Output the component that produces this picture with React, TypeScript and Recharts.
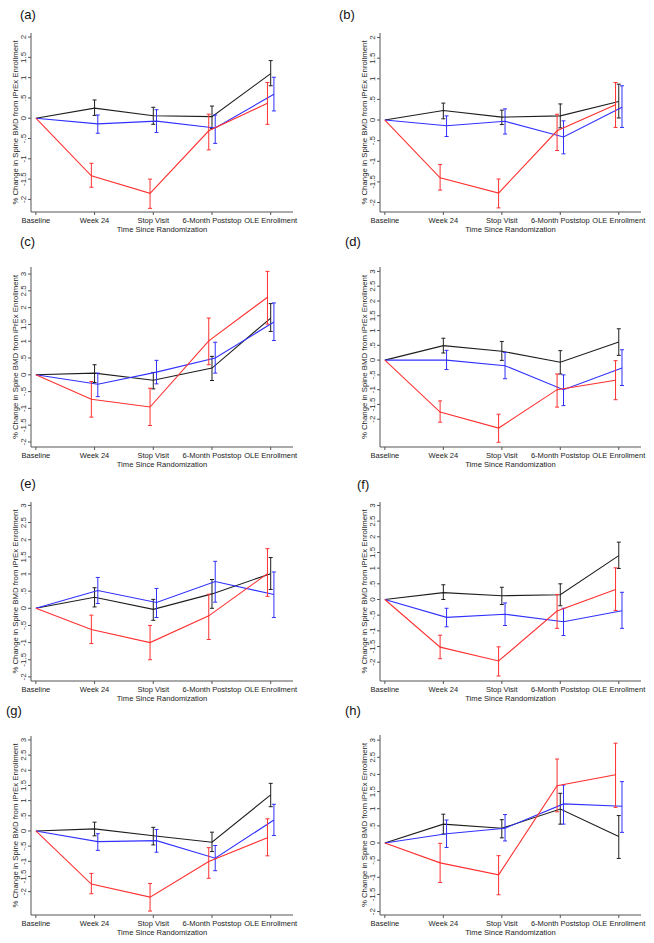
import { ErrorBar, Label, Line, LineChart, XAxis, YAxis } from "recharts";

const CATEGORIES = ["Baseline", "Week 24", "Stop Visit", "6-Month Poststop", "OLE Enrollment"];
const TICKS_2 = [-2, -1.5, -1, -0.5, 0, 0.5, 1, 1.5, 2];
const TICKS_3 = [-2, -1.5, -1, -0.5, 0, 0.5, 1, 1.5, 2, 2.5, 3];

type Ci = [number, number] | null;

// (a)
const A_BLACK = [0, 0.25, 0.06, 0.04, 1.1];
const A_BLACK_CI: Ci[] = [null, [0.07, 0.45], [-0.15, 0.27], [-0.25, 0.3], [0.8, 1.42]];
const A_BLUE = [0, -0.14, -0.07, -0.24, 0.59];
const A_BLUE_CI: Ci[] = [null, [-0.37, 0.08], [-0.35, 0.21], [-0.62, 0.08], [0.18, 1.01]];
const A_RED = [0, -1.42, -1.85, -0.31, 0.37];
const A_RED_CI: Ci[] = [null, [-1.7, -1.11], [-2.22, -1.5], [-0.78, 0.1], [-0.15, 0.88]];

// (b)
const B_BLACK = [0, 0.23, 0.07, 0.1, 0.45];
const B_BLACK_CI: Ci[] = [null, [0.03, 0.41], [-0.11, 0.24], [-0.19, 0.39], [0.05, 0.87]];
const B_BLUE = [0, -0.14, -0.03, -0.41, 0.31];
const B_BLUE_CI: Ci[] = [null, [-0.4, 0.1], [-0.34, 0.27], [-0.82, -0.02], [-0.18, 0.83]];
const B_RED = [0, -1.4, -1.77, -0.26, 0.37];
const B_RED_CI: Ci[] = [null, [-1.7, -1.08], [-2.13, -1.43], [-0.74, 0.14], [-0.18, 0.91]];

// (c)
const C_BLACK = [0, 0.05, -0.16, 0.2, 1.69];
const C_BLACK_CI: Ci[] = [null, [-0.23, 0.3], [-0.42, 0.07], [-0.17, 0.55], [1.29, 2.12]];
const C_BLUE = [0, -0.28, 0.08, 0.5, 1.57];
const C_BLUE_CI: Ci[] = [null, [-0.65, 0.05], [-0.27, 0.43], [0.05, 0.97], [1.02, 2.14]];
const C_RED = [0, -0.73, -0.96, 1.01, 2.31];
const C_RED_CI: Ci[] = [null, [-1.26, -0.2], [-1.51, -0.4], [0.3, 1.69], [1.51, 3.08]];

// (d)
const D_BLACK = [0, 0.49, 0.3, -0.07, 0.61];
const D_BLACK_CI: Ci[] = [null, [0.24, 0.74], [-0.01, 0.63], [-0.47, 0.32], [0.16, 1.06]];
const D_BLUE = [0, 0, -0.19, -1.0, -0.27];
const D_BLUE_CI: Ci[] = [null, [-0.32, 0.33], [-0.63, 0.26], [-1.54, -0.5], [-0.86, 0.35]];
const D_RED = [0, -1.76, -2.3, -1.0, -0.68];
const D_RED_CI: Ci[] = [null, [-2.1, -1.38], [-2.78, -1.83], [-1.59, -0.47], [-1.34, -0.02]];

// (e)
const E_BLACK = [0, 0.32, -0.03, 0.42, 1.01];
const E_BLACK_CI: Ci[] = [null, [0.04, 0.6], [-0.35, 0.26], [0, 0.84], [0.55, 1.48]];
const E_BLUE = [0, 0.52, 0.17, 0.78, 0.4];
const E_BLUE_CI: Ci[] = [null, [0.14, 0.9], [-0.27, 0.58], [0.18, 1.37], [-0.27, 1.06]];
const E_RED = [0, -0.62, -1.0, -0.22, 1.01];
const E_RED_CI: Ci[] = [null, [-1.03, -0.2], [-1.5, -0.5], [-0.91, 0.41], [0.35, 1.74]];

// (f)
const F_BLACK = [0, 0.22, 0.12, 0.15, 1.4];
const F_BLACK_CI: Ci[] = [null, [0, 0.47], [-0.16, 0.39], [-0.2, 0.5], [0.99, 1.83]];
const F_BLUE = [0, -0.57, -0.47, -0.71, -0.36];
const F_BLUE_CI: Ci[] = [null, [-0.87, -0.28], [-0.83, -0.11], [-1.15, -0.28], [-0.92, 0.23]];
const F_RED = [0, -1.52, -1.96, -0.37, 0.32];
const F_RED_CI: Ci[] = [null, [-1.89, -1.14], [-2.44, -1.51], [-0.92, 0.16], [-0.35, 1.01]];

// (g)
const G_BLACK = [0, 0.07, -0.16, -0.37, 1.19];
const G_BLACK_CI: Ci[] = [null, [-0.16, 0.29], [-0.46, 0.12], [-0.68, -0.04], [0.8, 1.57]];
const G_BLUE = [0, -0.35, -0.32, -0.9, 0.36];
const G_BLUE_CI: Ci[] = [null, [-0.64, -0.09], [-0.7, 0.05], [-1.31, -0.48], [-0.15, 0.88]];
const G_RED = [0, -1.75, -2.18, -1.01, -0.22];
const G_RED_CI: Ci[] = [null, [-2.07, -1.4], [-2.64, -1.73], [-1.56, -0.55], [-0.82, 0.4]];

// (h)
const H_BLACK = [0, 0.55, 0.43, 0.99, 0.19];
const H_BLACK_CI: Ci[] = [null, [0.26, 0.84], [0.15, 0.68], [0.55, 1.45], [-0.45, 0.8]];
const H_BLUE = [0, 0.27, 0.43, 1.14, 1.07];
const H_BLUE_CI: Ci[] = [null, [-0.13, 0.67], [0.06, 0.83], [0.55, 1.69], [0.31, 1.79]];
const H_RED = [0, -0.58, -0.93, 1.67, 1.99];
const H_RED_CI: Ci[] = [null, [-1.15, -0.01], [-1.51, -0.37], [0.91, 2.45], [1.04, 2.91]];

const FONT = "'Liberation Sans', Arial, Helvetica, sans-serif";
const BLACK = "#1e1e1e";
const BLUE = "#3030ff";
const RED = "#ff3030";
const X_DOMAIN: [number, number] = [-0.083, 4.38];

// Stata-style tick labels: ".5", "-1.5"
function fmtTick(v: number) {
  if (v === 0) return "0";
  return String(v).replace(/^(-?)0\./, "$1.");
}

function toRows(mean: number[], ci: Ci[], shift: number) {
  return mean.map((m, i) => {
    const c = ci[i];
    return {
      x: i === 0 ? 0 : i + shift,
      y: m,
      err: c ? [m - c[0], c[1] - m] : undefined,
    };
  });
}

const YTick = (props: any) => {
  const { x, y, payload } = props;
  return (
    <text
      x={x}
      y={y}
      transform={`rotate(-90 ${x} ${y})`}
      textAnchor="middle"
      fontSize={8}
      fontFamily={FONT}
      fill="#333"
    >
      {fmtTick(payload.value)}
    </text>
  );
};

const XTick = (props: any) => {
  const { x, y, payload } = props;
  return (
    <text x={x} y={y} dy="0.71em" textAnchor="middle" fontSize={7.5} fontFamily={FONT} fill="#222">
      {CATEGORIES[payload.value]}
    </text>
  );
};

type Frame = { l: number; r: number; t: number; b: number };

function Panel({
  tag,
  tagX,
  tagY,
  frame,
  domain,
  ticks,
  black,
  blackCi,
  blue,
  blueCi,
  red,
  redCi,
}: {
  tag: string;
  tagX: number;
  tagY: number;
  frame: Frame;
  domain: [number, number];
  ticks: number[];
  black: number[];
  blackCi: Ci[];
  blue: number[];
  blueCi: Ci[];
  red: number[];
  redCi: Ci[];
}) {
  const padL = 40;
  const padR = 5;
  const padT = 5;
  const padB = 25;
  const w = frame.r - frame.l + padL + padR;
  const h = frame.b - frame.t + padT + padB;
  const series = [
    { key: "black", color: BLACK, rows: toRows(black, blackCi, 0) },
    { key: "blue", color: BLUE, rows: toRows(blue, blueCi, 0.055) },
    { key: "red", color: RED, rows: toRows(red, redCi, -0.055) },
  ];
  return (
    <>
      <div
        style={{
          position: "absolute",
          left: tagX,
          top: tagY - 7,
          fontFamily: FONT,
          fontSize: 13,
          lineHeight: "14px",
          color: "#111",
        }}
      >
        {tag}
      </div>
      <div style={{ position: "absolute", left: frame.l - padL, top: frame.t - padT }}>
        <LineChart width={w} height={h} margin={{ top: padT, right: padR, bottom: 0, left: padL - 30 }}>
          <XAxis
            dataKey="x"
            type="number"
            domain={X_DOMAIN}
            allowDataOverflow
            ticks={[0, 1, 2, 3, 4]}
            interval={0}
            height={padB}
            tick={<XTick />}
            tickSize={3}
            tickMargin={3}
            stroke="#555"
            label={
              <Label
                content={(p: any) => {
                  const vb = p.viewBox;
                  return (
                    <text
                      x={vb.x + vb.width / 2}
                      y={vb.y + 20}
                      textAnchor="middle"
                      fontSize={7.6}
                      fontFamily={FONT}
                      fill="#222"
                    >
                      Time Since Randomization
                    </text>
                  );
                }}
              />
            }
          />
          <XAxis
            xAxisId="top"
            orientation="top"
            dataKey="x"
            type="number"
            domain={X_DOMAIN}
            allowDataOverflow
            height={0}
            tick={false}
            tickLine={false}
            stroke="#b5b5b5"
          />
          <YAxis
            type="number"
            domain={domain}
            allowDataOverflow
            ticks={ticks}
            interval={0}
            width={30}
            tick={<YTick />}
            tickSize={3}
            tickMargin={2}
            stroke="#555"
            label={
              <Label
                content={(p: any) => {
                  const vb = p.viewBox;
                  const cx = vb.x + vb.width - 13;
                  const cy = vb.y + vb.height / 2;
                  return (
                    <text
                      x={cx}
                      y={cy}
                      transform={`rotate(-90 ${cx} ${cy})`}
                      textAnchor="middle"
                      fontSize={7.8}
                      fontFamily={FONT}
                      fill="#222"
                    >
                      % Change in Spine BMD from iPrEx Enrollment
                    </text>
                  );
                }}
              />
            }
          />
          <YAxis
            yAxisId="right"
            orientation="right"
            type="number"
            domain={domain}
            allowDataOverflow
            width={0}
            tick={false}
            tickLine={false}
            stroke="#b5b5b5"
          />
          {series.map((s) => (
            <Line
              key={s.key}
              data={s.rows}
              dataKey="y"
              type="linear"
              stroke={s.color}
              strokeWidth={1.1}
              dot={false}
              activeDot={false}
              isAnimationActive={false}
            >
              <ErrorBar
                dataKey="err"
                direction="y"
                width={2}
                stroke={s.color}
                strokeWidth={1}
                isAnimationActive={false}
              />
            </Line>
          ))}
        </LineChart>
      </div>
    </>
  );
}

export default function App() {
  return (
    <div style={{ position: "absolute", left: 0, top: 0, width: 654, height: 943, background: "#fff" }}>
      <Panel tag="(a)" tagX={20} tagY={15} frame={{ l: 31, r: 293, t: 33, b: 212 }} domain={[-2.31, 2.1]} ticks={TICKS_2}
        black={A_BLACK} blackCi={A_BLACK_CI} blue={A_BLUE} blueCi={A_BLUE_CI} red={A_RED} redCi={A_RED_CI} />
      <Panel tag="(b)" tagX={339} tagY={15} frame={{ l: 380, r: 641, t: 33, b: 212 }} domain={[-2.23, 2.11]} ticks={TICKS_2}
        black={B_BLACK} blackCi={B_BLACK_CI} blue={B_BLUE} blueCi={B_BLUE_CI} red={B_RED} redCi={B_RED_CI} />
      <Panel tag="(c)" tagX={20} tagY={242} frame={{ l: 31, r: 293, t: 267, b: 447 }} domain={[-2.15, 3.21]} ticks={TICKS_3}
        black={C_BLACK} blackCi={C_BLACK_CI} blue={C_BLUE} blueCi={C_BLUE_CI} red={C_RED} redCi={C_RED_CI} />
      <Panel tag="(d)" tagX={345} tagY={242} frame={{ l: 380, r: 641, t: 267, b: 447 }} domain={[-2.94, 3.15]} ticks={TICKS_3}
        black={D_BLACK} blackCi={D_BLACK_CI} blue={D_BLUE} blueCi={D_BLUE_CI} red={D_RED} redCi={D_RED_CI} />
      <Panel tag="(e)" tagX={20} tagY={484} frame={{ l: 31, r: 293, t: 502, b: 681 }} domain={[-2.12, 3.1]} ticks={TICKS_3}
        black={E_BLACK} blackCi={E_BLACK_CI} blue={E_BLUE} blueCi={E_BLUE_CI} red={E_RED} redCi={E_RED_CI} />
      <Panel tag="(f)" tagX={357} tagY={485} frame={{ l: 380, r: 641, t: 502, b: 681 }} domain={[-2.6, 3.11]} ticks={TICKS_3}
        black={F_BLACK} blackCi={F_BLACK_CI} blue={F_BLUE} blueCi={F_BLUE_CI} red={F_RED} redCi={F_RED_CI} />
      <Panel tag="(g)" tagX={6} tagY={711} frame={{ l: 31, r: 293, t: 736, b: 915 }} domain={[-2.77, 3.13]} ticks={TICKS_3}
        black={G_BLACK} blackCi={G_BLACK_CI} blue={G_BLUE} blueCi={G_BLUE_CI} red={G_RED} redCi={G_RED_CI} />
      <Panel tag="(h)" tagX={345} tagY={711} frame={{ l: 380, r: 641, t: 735, b: 915 }} domain={[-2.1, 3.15]} ticks={TICKS_3}
        black={H_BLACK} blackCi={H_BLACK_CI} blue={H_BLUE} blueCi={H_BLUE_CI} red={H_RED} redCi={H_RED_CI} />
    </div>
  );
}
